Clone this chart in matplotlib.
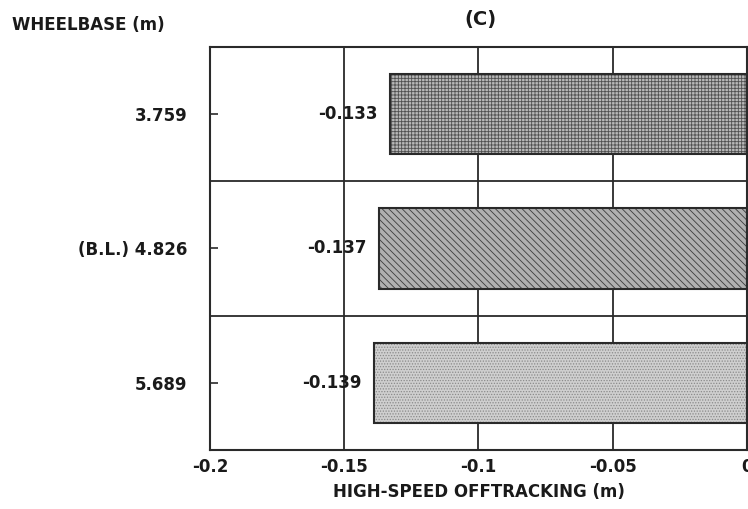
"""Horizontal bar chart: high-speed offtracking vs wheelbase, panel (C)."""

import matplotlib

matplotlib.use("Agg")
import matplotlib.pyplot as plt

# Data
categories = ["3.759", "(B.L.) 4.826", "5.689"]
offtracking = [-0.133, -0.137, -0.139]
value_labels = ["-0.133", "-0.137", "-0.139"]
xticks = [-0.2, -0.15, -0.1, -0.05, 0.0]
xtick_labels = ["-0.2", "-0.15", "-0.1", "-0.05", "0"]

FONT = "DejaVu Sans"
TEXT = "#1a1a1a"
LINE = "#2a2a2a"
FS = 12

# fill colour, hatch pattern, hatch colour for each bar
bar_styles = [
    ("#b8b8b8", "+++++", "#505050"),
    ("#b0b0b0", "\\\\\\\\\\", "#3c3c3c"),
    ("#cfcfcf", "......", "#8a8a8a"),
]

plt.rcParams["hatch.linewidth"] = 0.6

fig = plt.figure(figsize=(7.48, 5.09), dpi=100)
fig.patch.set_facecolor("white")
ax = fig.add_axes([0.2807, 0.1159, 0.7180, 0.7918])

ypos = list(range(len(categories)))

# grid: vertical lines at ticks, horizontal separators between categories
for x in xticks[1:-1]:
    ax.axvline(x, color=LINE, linewidth=1.3, zorder=1)
for y in [0.5, 1.5]:
    ax.axhline(y, color=LINE, linewidth=1.3, zorder=1)

for y, v, (fc, hatch, hc) in zip(ypos, offtracking, bar_styles):
    ax.barh(y, v, height=0.6, left=0, color=fc, hatch=hatch, edgecolor=hc, linewidth=0, zorder=2)
    ax.barh(y, v, height=0.6, left=0, fill=False, edgecolor=LINE, linewidth=1.5, zorder=3)

for y, v, lab in zip(ypos, offtracking, value_labels):
    ax.annotate(
        lab,
        (v, y),
        xytext=(-9, 0),
        textcoords="offset points",
        ha="right",
        va="center",
        fontsize=FS,
        weight="bold",
        color=TEXT,
        family=FONT,
        zorder=4,
    )

ax.set_xlim(-0.2, 0.0)
ax.set_ylim(2.5, -0.5)
ax.set_xticks(xticks)
ax.set_xticklabels(xtick_labels, family=FONT, fontsize=FS, weight="bold", color=TEXT)
ax.set_yticks(ypos)
ax.set_yticklabels(categories, family=FONT, fontsize=FS, weight="bold", color=TEXT)
ax.tick_params(axis="x", length=0, pad=6)
ax.tick_params(axis="y", direction="in", length=6, width=1.2, color=LINE, pad=16)
for s in ax.spines.values():
    s.set_color(LINE)
    s.set_linewidth(1.5)

ax.set_xlabel("HIGH-SPEED OFFTRACKING (m)", family=FONT, fontsize=FS, weight="bold", color=TEXT, labelpad=5)
fig.text(0.642, 0.962, "(C)", ha="center", va="center", family=FONT, fontsize=14, weight="bold", color=TEXT)
fig.text(0.016, 0.951, "WHEELBASE (m)", ha="left", va="center", family=FONT, fontsize=FS, weight="bold", color=TEXT)

fig.savefig("out.png", dpi=100, facecolor=fig.get_facecolor())
